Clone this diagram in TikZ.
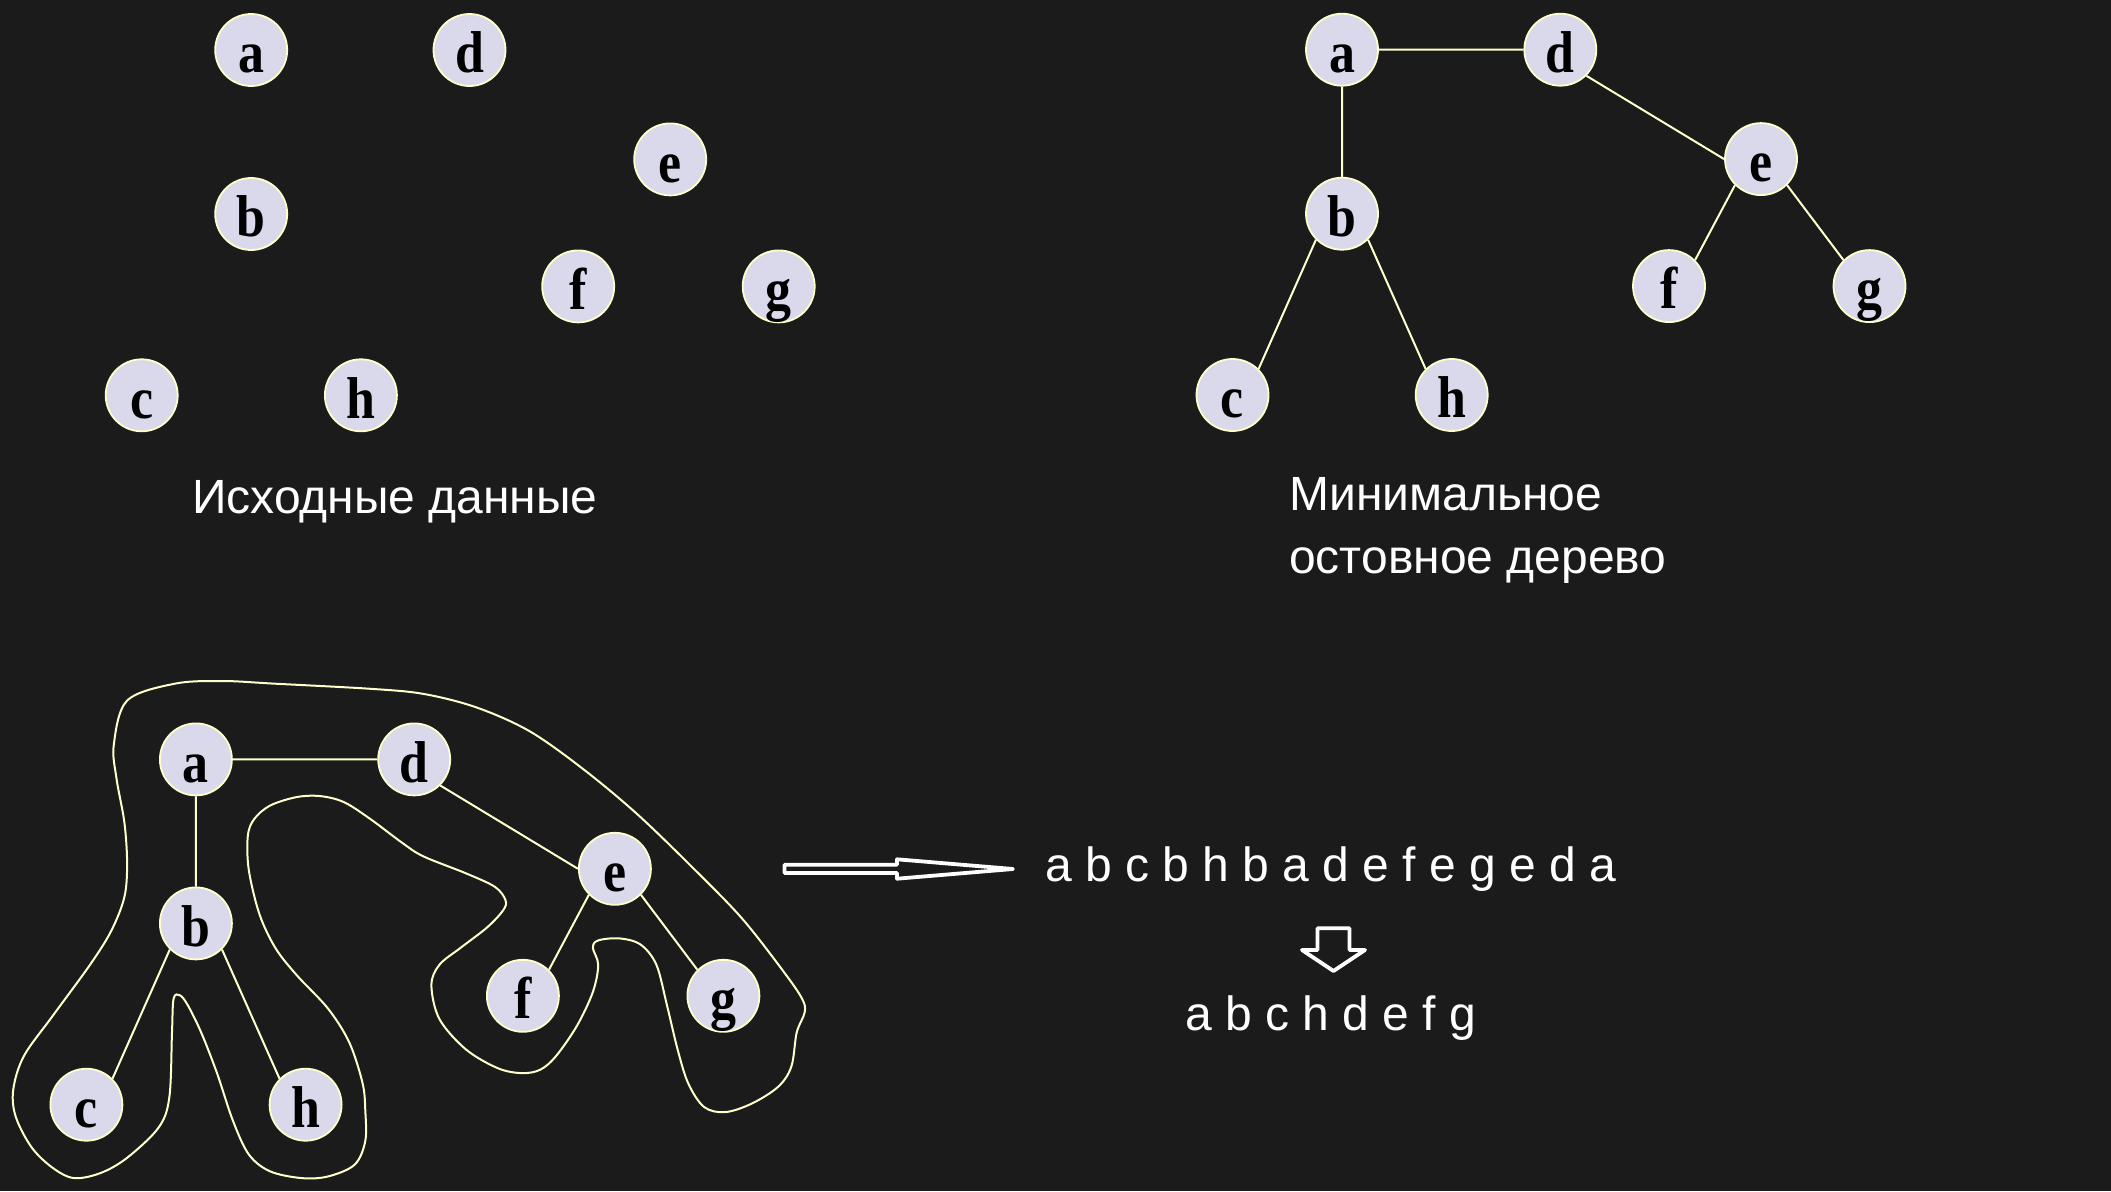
\documentclass[tikz,border=0pt]{standalone}
\usepackage{fontspec}
\setmainfont{Liberation Sans}
\newfontfamily\nodefont[FakeStretch=0.88]{Liberation Serif}
\definecolor{bg}{RGB}{27,27,27}
\definecolor{vfill}{RGB}{217,217,235}
\definecolor{cream}{RGB}{255,255,204}
\tikzset{
  vtx/.style={circle, fill=vfill, draw=cream, line width=1.8pt, minimum size=72pt,
    inner sep=0pt, text height=45.4pt, text depth=0pt, text=black,
    font=\nodefont\bfseries\fontsize{59}{59}\selectfont},
  edge/.style={draw=cream, line width=2pt},
  contour/.style={draw=cream, line width=2pt},
  blockarrow/.style={draw=white, line width=3.8pt, line join=round},
  caption/.style={text=white, inner sep=0pt, anchor=base west,
    font=\fontsize{48}{56}\selectfont},
  seq/.style={text=white, inner sep=0pt, anchor=base west,
    font=\fontsize{48}{56}\selectfont}
}
\newcommand\mygraph[1]{%
  \node[vtx] (#1a) at (0,0) {a};
  \node[vtx] (#1d) at (218.3,0) {d};
  \node[vtx] (#1e) at (419,109.4) {e};
  \node[vtx] (#1b) at (0,164) {b};
  \node[vtx] (#1f) at (327,236.4) {f};
  \node[vtx] (#1g) at (527.5,236.4) {g};
  \node[vtx] (#1c) at (-109.5,345.3) {c};
  \node[vtx] (#1h) at (109.7,345.3) {h};
}
\newcommand\mytree[1]{%
  \draw[edge] (#1a) -- (#1d) (#1a) -- (#1b)
    (#1b.225) -- (#1c.45) (#1b.-45) -- (#1h.135)
    (#1d.-45) -- (#1e.180) (#1e.225) -- (#1f.45) (#1e.-45) -- (#1g.135);
}
\begin{document}
\begin{tikzpicture}[x=1pt,y=-1pt]
\fill[bg] (0,0) rectangle (2111,1191);
\useasboundingbox (0,0) rectangle (2111,1191);

% top-left: input data
\begin{scope}[shift={(251.2,50)}]
  \mygraph{L}
\end{scope}
\node[caption] (cap1) at (192,513.3) {Исходные данные};

% top-right: minimum spanning tree
\begin{scope}[shift={(1342,49.7)}]
  \mygraph{R}
  \mytree{R}
\end{scope}
\node[caption] (cap2a) at (1289,510) {Минимальное};
\node[caption] (cap2b) at (1289,573) {остовное дерево};

% bottom: tree with contour walk
\draw[contour] plot[smooth cycle, tension=0.55] coordinates {
 (113.8,744.7) (127.1,700.6) (174.7,683.7) (222.3,681.0) (275.3,683.7)
 (370.6,688.8) (423.5,693.9) (476.4,707.4) (529.4,731.1) (582.3,768.4)
 (635.3,812.4) (688.2,863.2) (741.1,917.4) (783.5,971.5) (802.0,998.6)
 (804.7,1012.2) (796.7,1032.5) (791.4,1066.4) (778.2,1086.7) (751.7,1103.6)
 (725.2,1112.1) (704.1,1107.0) (688.2,1083.3) (677.6,1049.4) (667.0,1005.4)
 (656.4,964.8) (640.5,944.5) (619.4,938.4) (598.2,940.4) (592.9,947.8)
 (598.2,964.8) (592.9,991.9) (577.0,1025.7) (555.9,1056.2) (540.0,1069.8)
 (521.4,1073.1) (497.6,1068.1) (465.9,1049.4) (439.4,1019.0) (431.4,985.1)
 (439.4,964.8) (460.6,947.8) (487.0,927.5) (502.9,910.6) (505.6,900.4)
 (495.0,886.9) (465.9,873.3) (423.5,856.4) (402.3,842.9) (370.6,819.2)
 (344.1,802.2) (320.3,796.1) (296.5,797.1) (270.0,805.6) (254.1,819.2)
 (247.8,836.1) (248.8,870.0) (259.4,914.0) (275.3,947.8) (296.5,974.9)
 (328.2,1008.8) (349.4,1042.7) (362.6,1083.3) (365.3,1110.4) (365.3,1140.9)
 (354.7,1164.6) (328.2,1176.4) (301.7,1178.1) (270.0,1171.3) (248.8,1154.4)
 (232.9,1120.6) (217.0,1073.1) (201.2,1032.5) (187.9,1005.4) (180.0,995.3)
 (173.6,998.6) (172.0,1032.5) (169.4,1096.8) (158.8,1127.3) (127.1,1157.8)
 (100.6,1173.0) (74.1,1178.1) (52.9,1168.0) (31.8,1147.6) (15.9,1117.2)
 (13.2,1090.1) (23.8,1056.2) (52.9,1015.6) (90.0,964.8) (111.2,930.9)
 (124.4,897.0) (127.1,863.2) (124.4,822.5) (116.5,778.5)
};
\begin{scope}[shift={(195.9,759.4)}]
  \mygraph{B}
  \mytree{B}
\end{scope}

% block arrows
\draw[blockarrow] (784.5,864.7) -- (897,864.7) -- (897,859.3) -- (1013,869)
  -- (897,878.7) -- (897,873) -- (784.5,873) -- cycle;
\draw[blockarrow] (1317.5,928.3) -- (1349.5,928.3) -- (1349.5,950) -- (1365,950)
  -- (1333.5,971) -- (1302,950) -- (1317.5,950) -- cycle;

% sequences
\node[seq] (seq1) at (1045,881) {a b c b h b a d e f e g e d a};
\node[seq] (seq2) at (1185,1030.7) {a b c h d e f g};
\end{tikzpicture}
\end{document}
